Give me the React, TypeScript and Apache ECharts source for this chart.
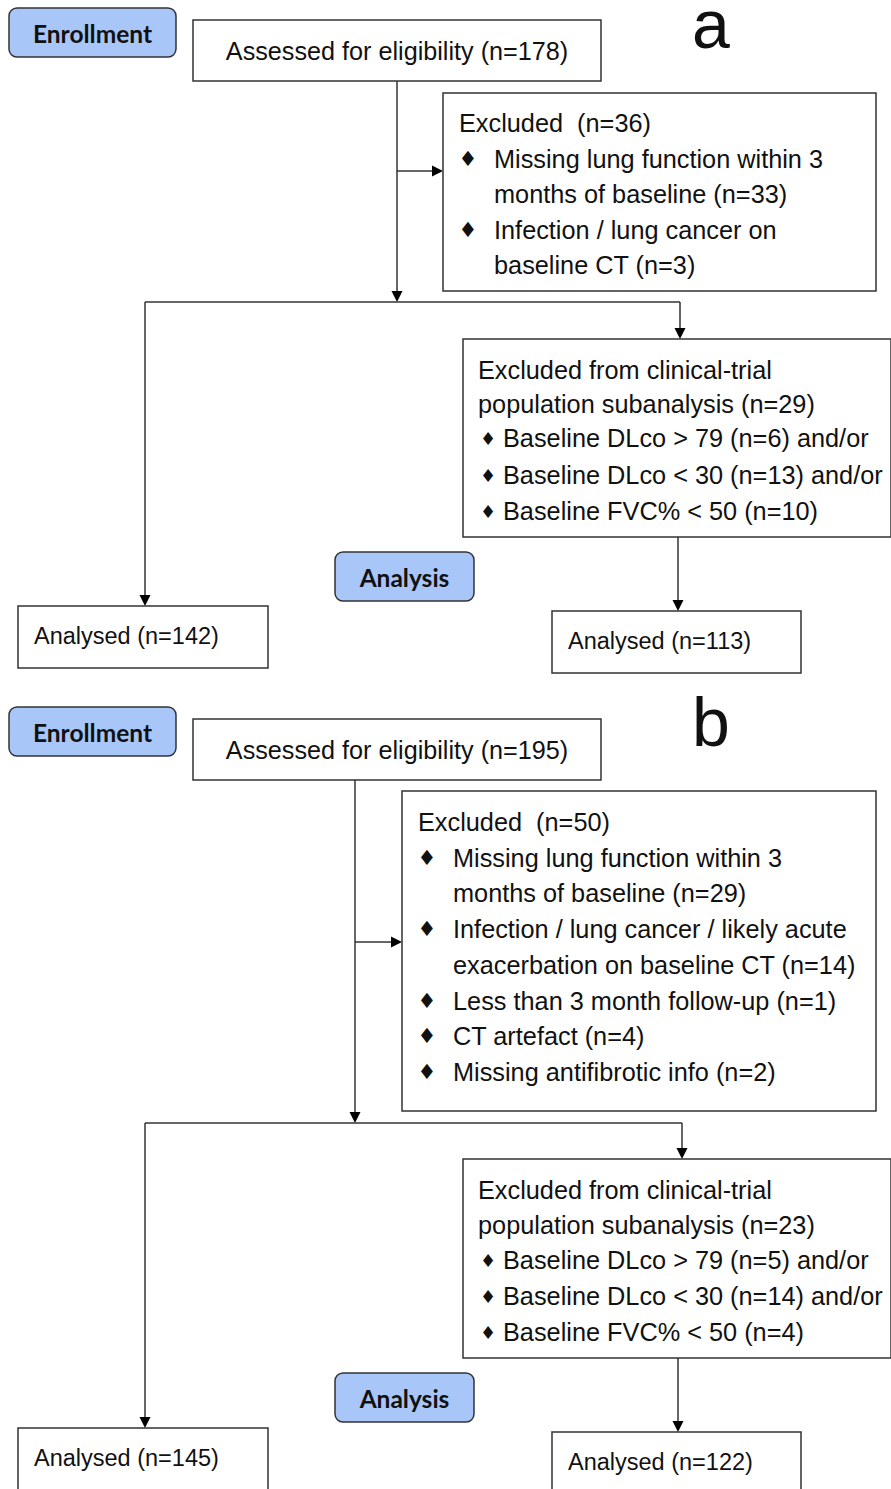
import React, { useEffect, useRef } from "react";
import * as echarts from "echarts";

// ---- content (texts and counts) ----
const panelLetters = ["a", "b"];
const stageLabels = ["Enrollment", "Analysis"];
const assessedCounts = [178, 195];
const excludedCounts = [36, 50];
const excludedReasonsA: string[][] = [
  ["Missing lung function within 3", "months of baseline (n=33)"],
  ["Infection / lung cancer on", "baseline CT (n=3)"],
];
const excludedReasonsB: string[][] = [
  ["Missing lung function within 3", "months of baseline (n=29)"],
  ["Infection / lung cancer / likely acute", "exacerbation on baseline CT (n=14)"],
  ["Less than 3 month follow-up (n=1)"],
  ["CT artefact (n=4)"],
  ["Missing antifibrotic info (n=2)"],
];
const trialExcludedCounts = [29, 23];
const trialCriteria = ["Baseline DLco > 79", "Baseline DLco < 30", "Baseline FVC% < 50"];
const trialSuffix = [" and/or", " and/or", ""];
const trialCriteriaCountsA = [6, 13, 10];
const trialCriteriaCountsB = [5, 14, 4];
const analysedAll = [142, 145];
const analysedTrial = [113, 122];

// ---- layout ----
type Box = [number, number, number, number];
interface Layout {
  enroll: Box; assessed: Box; letter: [number, number]; trunkX: number; sideY: number;
  excl: Box; exclText: { x: number; bx: number; tx: number; y0: number; dy: number };
  splitY: number; leftX: number; rightX: number; trial: Box;
  trialText: { x: number; bx: number; tx: number; ys: number[] };
  analysis: Box; dropX: number; anL: Box; anR: Box;
}
const LAYOUTS: Layout[] = [
  {
    enroll: [9, 8, 167, 49], assessed: [193, 20, 408, 61], letter: [711, 24], trunkX: 397, sideY: 171,
    excl: [443, 93, 433, 198], exclText: { x: 459, bx: 468, tx: 494, y0: 123, dy: 35.5 },
    splitY: 302, leftX: 145, rightX: 680, trial: [463, 339, 428, 198],
    trialText: { x: 478, bx: 488, tx: 503, ys: [370, 404, 438, 475, 511] },
    analysis: [335, 552, 139, 49], dropX: 678, anL: [18, 606, 250, 62], anR: [552, 611, 249, 62],
  },
  {
    enroll: [9, 707, 167, 49], assessed: [193, 719, 408, 61], letter: [711, 722], trunkX: 355, sideY: 942,
    excl: [402, 791, 474, 320], exclText: { x: 418, bx: 427, tx: 453, y0: 822, dy: 35.7 },
    splitY: 1123, leftX: 145, rightX: 682, trial: [463, 1159, 428, 199],
    trialText: { x: 478, bx: 488, tx: 503, ys: [1190, 1225, 1260, 1296, 1332] },
    analysis: [335, 1373, 139, 49], dropX: 678, anL: [18, 1428, 250, 70], anR: [552, 1432, 249, 70],
  },
];

const STROKE = "#333333";
const TEXT = "#111111";
const BLUE = "#a9c6f9";
const FONT = "'Liberation Sans', Arial, Helvetica, sans-serif";
const BOLD_FONT = "Lato, 'Open Sans', sans-serif";
const BULLET_FONT = "'DejaVu Sans', sans-serif";
const LW = 1.5;
const SIZE_MAIN = 25.3;
const SIZE_ANALYSED = 23.5;
const SIZE_STAGE = 24.5;

function rect(b: Box, fill = "#ffffff", r = 0): any {
  return {
    type: "rect",
    shape: { x: b[0], y: b[1], width: b[2], height: b[3], r },
    style: { fill, stroke: STROKE, lineWidth: LW },
  };
}
function line(x1: number, y1: number, x2: number, y2: number): any {
  return { type: "line", shape: { x1, y1, x2, y2 }, style: { stroke: STROKE, lineWidth: LW } };
}
function arrowDown(x: number, y1: number, y2: number): any[] {
  const h = 11, w = 5.5;
  return [
    line(x, y1, x, y2 - h + 1),
    { type: "polygon", shape: { points: [[x - w, y2 - h], [x + w, y2 - h], [x, y2]] }, style: { fill: "#000" } },
  ];
}
function arrowRight(y: number, x1: number, x2: number): any[] {
  const h = 11, w = 5.5;
  return [
    line(x1, y, x2 - h + 1, y),
    { type: "polygon", shape: { points: [[x2 - h, y - w], [x2 - h, y + w], [x2, y]] }, style: { fill: "#000" } },
  ];
}
function text(str: string, x: number, y: number, size: number, opts: any = {}): any {
  return {
    type: "text",
    x, y,
    style: {
      text: str,
      fill: TEXT,
      fontSize: size,
      fontFamily: opts.family || FONT,
      fontWeight: opts.weight || "normal",
      align: opts.align || "left",
      verticalAlign: "middle",
    },
  };
}
const BULLET = "\u2666";

function buildPanel(i: number): any[] {
  const L = LAYOUTS[i];
  const els: any[] = [];
  const reasons = i === 0 ? excludedReasonsA : excludedReasonsB;
  const critCounts = i === 0 ? trialCriteriaCountsA : trialCriteriaCountsB;

  // connectors
  els.push(...arrowDown(L.trunkX, L.assessed[1] + L.assessed[3], L.splitY));
  els.push(...arrowRight(L.sideY, L.trunkX, L.excl[0]));
  els.push(line(L.leftX, L.splitY, L.rightX, L.splitY));
  els.push(...arrowDown(L.leftX, L.splitY, L.anL[1]));
  els.push(...arrowDown(L.rightX, L.splitY, L.trial[1]));
  els.push(...arrowDown(L.dropX, L.trial[1] + L.trial[3], L.anR[1]));

  // stage labels
  els.push(rect(L.enroll, BLUE, 8));
  els.push(text(stageLabels[0], L.enroll[0] + L.enroll[2] / 2, L.enroll[1] + L.enroll[3] / 2 + 1, SIZE_STAGE, { family: BOLD_FONT, weight: "bold", align: "center" }));
  els.push(rect(L.analysis, BLUE, 8));
  els.push(text(stageLabels[1], L.analysis[0] + L.analysis[2] / 2, L.analysis[1] + L.analysis[3] / 2 + 1, SIZE_STAGE, { family: BOLD_FONT, weight: "bold", align: "center" }));

  // assessed
  els.push(rect(L.assessed));
  els.push(text(`Assessed for eligibility (n=${assessedCounts[i]})`, L.assessed[0] + L.assessed[2] / 2, L.assessed[1] + L.assessed[3] / 2, 25.2, { align: "center" }));

  // panel letter
  els.push(text(panelLetters[i], L.letter[0], L.letter[1], 68, { align: "center" }));

  // excluded box
  els.push(rect(L.excl));
  const et = L.exclText;
  els.push(text(`Excluded  (n=${excludedCounts[i]})`, et.x, et.y0, SIZE_MAIN));
  let row = 1;
  reasons.forEach((lines) => {
    els.push(text(BULLET, et.bx, et.y0 + row * et.dy, 21, { family: BULLET_FONT, align: "center" }));
    lines.forEach((ln) => {
      els.push(text(ln, et.tx, et.y0 + row * et.dy, SIZE_MAIN));
      row++;
    });
  });

  // clinical trial exclusion box
  els.push(rect(L.trial));
  const tt = L.trialText;
  els.push(text("Excluded from clinical-trial", tt.x, tt.ys[0], SIZE_MAIN));
  els.push(text(`population subanalysis (n=${trialExcludedCounts[i]})`, tt.x, tt.ys[1], SIZE_MAIN));
  trialCriteria.forEach((c, k) => {
    els.push(text(BULLET, tt.bx, tt.ys[2 + k], 18, { family: BULLET_FONT, align: "center" }));
    els.push(text(`${c} (n=${critCounts[k]})${trialSuffix[k]}`, tt.tx, tt.ys[2 + k], SIZE_MAIN));
  });

  // analysed
  els.push(rect(L.anL));
  els.push(text(`Analysed (n=${analysedAll[i]})`, L.anL[0] + 16, L.anL[1] + 30, SIZE_ANALYSED));
  els.push(rect(L.anR));
  els.push(text(`Analysed (n=${analysedTrial[i]})`, L.anR[0] + 16, L.anR[1] + 30, SIZE_ANALYSED));

  return els;
}

export default function App() {
  const ref = useRef<HTMLDivElement>(null);
  useEffect(() => {
    if (!ref.current) return;
    const chart = echarts.init(ref.current, null, { renderer: "svg" });
    chart.setOption({
      animation: false,
      backgroundColor: "#ffffff",
      graphic: { elements: [...buildPanel(0), ...buildPanel(1)] },
    });
    return () => chart.dispose();
  }, []);
  return (
    <div
      ref={ref}
      style={{ position: "absolute", left: 0, top: 0, width: 891, height: 1489, background: "#fff" }}
    />
  );
}
